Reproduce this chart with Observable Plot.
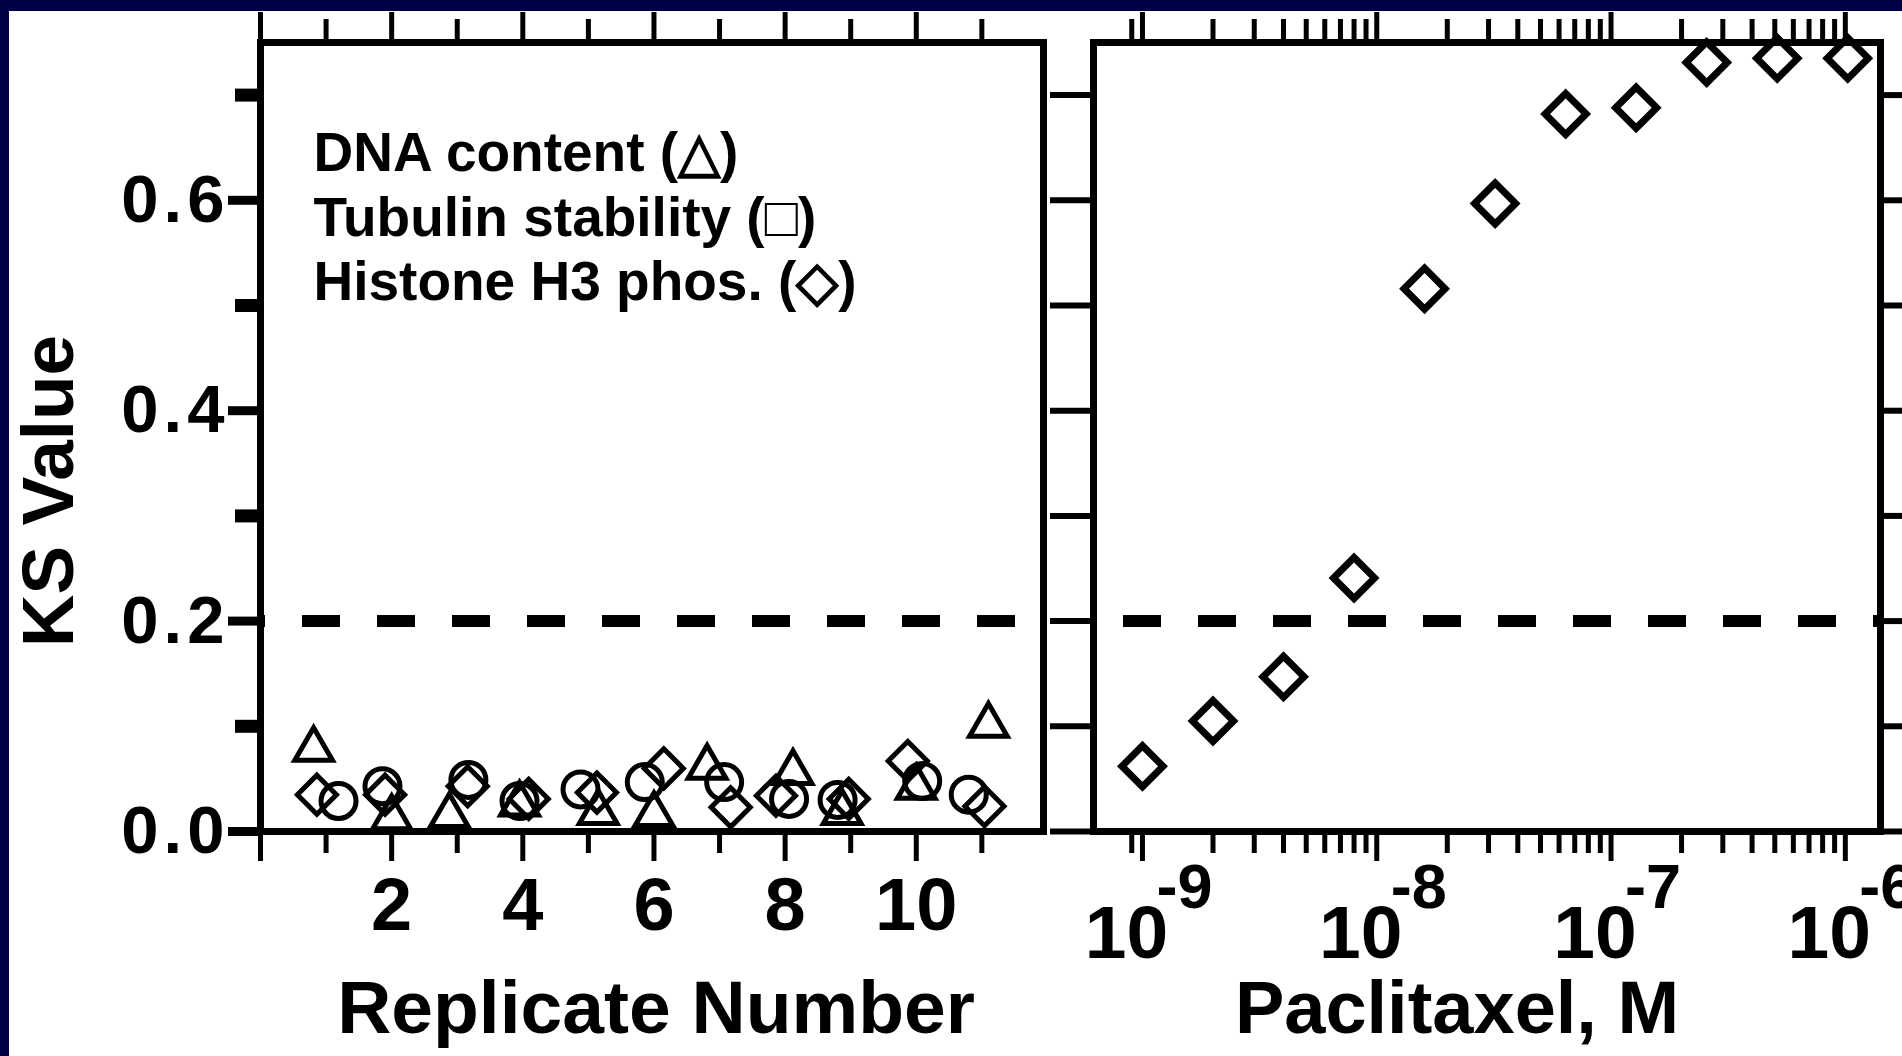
<!DOCTYPE html>
<html><head><meta charset="utf-8">
<script src="https://cdn.jsdelivr.net/npm/d3@7"></script>
<script src="https://cdn.jsdelivr.net/npm/@observablehq/plot@0.6"></script>
<style>
html,body{margin:0;padding:0;background:#fff;overflow:hidden}
#wrap{position:relative;width:1902px;height:1056px;background:#fff;color:#000}
#left{position:absolute;left:0;top:0}
#right{position:absolute;left:1045px;top:0}
.navy{position:absolute;background:#000046;z-index:5}
</style></head><body>
<div id="wrap">
 <div id="left"></div><div id="right"></div>
 <div class="navy" style="left:0;top:0;width:1902px;height:11px"></div>
 <div class="navy" style="left:0;top:0;width:9px;height:1056px"></div>
</div>
<script>
// ---- Left panel: replicate controls (x = replicate position incl. plotted offset) ----
const dnaX  = [0.81, 2.00, 2.88, 3.95, 5.15, 6.00, 6.81, 8.12, 8.87, 10.00, 11.10];
const dnaKS = [0.078, 0.013, 0.015, 0.026, 0.018, 0.016, 0.061, 0.056, 0.018, 0.042, 0.101];
const tubX  = [1.19, 1.86, 3.17, 3.95, 4.88, 5.86, 7.07, 8.06, 8.80, 10.09, 10.80];
const tubKS = [0.029, 0.043, 0.049, 0.029, 0.040, 0.047, 0.047, 0.031, 0.030, 0.048, 0.035];
const h3X   = [0.86, 1.90, 3.16, 4.09, 5.13, 6.15, 7.17, 7.86, 8.97, 9.87, 11.04];
const h3KS  = [0.035, 0.035, 0.043, 0.031, 0.037, 0.060, 0.023, 0.034, 0.031, 0.067, 0.024];

// ---- Right panel: paclitaxel dose response (Histone H3 phos.) ----
const doseM  = [1e-9, 2e-9, 4e-9, 8e-9, 1.6e-8, 3.2e-8, 6.4e-8, 1.28e-7, 2.56e-7, 5.12e-7, 1.024e-6];
const doseKS = [0.062, 0.105, 0.147, 0.241, 0.516, 0.597, 0.682, 0.688, 0.731, 0.735, 0.735];

// ---- Ticks / labels ----
const yMajor = [0, 0.2, 0.4, 0.6];
const yMinor = [0.1, 0.3, 0.5, 0.7];
const yAll = [0, 0.1, 0.2, 0.3, 0.4, 0.5, 0.6, 0.7];
const xMajor = [0, 2, 4, 6, 8, 10];
const xMinor = [1, 3, 5, 7, 9, 11];
const xLabels = [2, 4, 6, 8, 10];
const decades = [1e-9, 1e-8, 1e-7, 1e-6];
const expLabels = ["-9", "-8", "-7", "-6"];
const logMinor = [9e-10,
  2e-9, 3e-9, 4e-9, 5e-9, 6e-9, 7e-9, 8e-9, 9e-9,
  2e-8, 3e-8, 4e-8, 5e-8, 6e-8, 7e-8, 8e-8, 9e-8,
  2e-7, 3e-7, 4e-7, 5e-7, 6e-7, 7e-7, 8e-7, 9e-7];
const legendLines = ["DNA content (\u25B3)", "Tubulin stability (\u25A1)", "Histone H3 phos. (\u25C7)"];
const yTitle = "KS Value";
const xTitleL = "Replicate Number";
const xTitleR = "Paclitaxel, M";
const threshold = 0.2;

const FONT = "'Liberation Sans', Arial, Helvetica, sans-serif";
const blank = () => "";

const left = Plot.plot({
  width: 1050, height: 1056,
  marginLeft: 260, marginRight: 7, marginTop: 42, marginBottom: 225,
  style: {background: "transparent", fontFamily: FONT, fontWeight: "bold", color: "black"},
  x: {domain: [0, 11.94]},
  y: {domain: [0, 0.75]},
  marks: [
    Plot.ruleY([threshold], {strokeWidth: 12, strokeDasharray: "38,37", strokeDashoffset: 33}),
    Plot.frame({strokeWidth: 7}),
    Plot.axisY({ticks: yMajor, tickSize: 32, strokeWidth: 9, tickFormat: blank, label: null}),
    Plot.axisY({ticks: yMinor, tickSize: 25, strokeWidth: 13, tickFormat: blank, label: null}),
    Plot.axisY({ticks: yMajor, tickSize: 0, tickPadding: 31, tickFormat: d3.format(".1f"), fontSize: 67, label: null}),
    Plot.axisX({ticks: xMajor, tickSize: 30, strokeWidth: 5, tickFormat: blank, label: null}),
    Plot.axisX({ticks: xMinor, tickSize: 22, strokeWidth: 5, tickFormat: blank, label: null}),
    Plot.axisX({ticks: xMajor, anchor: "top", tickSize: 31, strokeWidth: 5, tickFormat: blank, label: null}),
    Plot.axisX({ticks: xMinor, anchor: "top", tickSize: 24, strokeWidth: 5, tickFormat: blank, label: null}),
    Plot.axisX({ticks: xLabels, tickSize: 0, tickPadding: 46, fontSize: 74, label: null}),
    Plot.dot(dnaKS, {x: dnaX, y: d => d, symbol: "triangle", r: 14, fill: "none", stroke: "black", strokeWidth: 5}),
    Plot.dot(tubKS, {x: tubX, y: d => d, symbol: "circle", r: 17.5, fill: "none", stroke: "black", strokeWidth: 5}),
    Plot.dot(h3KS, {x: h3X, y: d => d, symbol: "diamond2", r: 17.6, fill: "none", stroke: "black", strokeWidth: 5}),
    Plot.text([legendLines.join("\n")], {text: d => d, frameAnchor: "top-left", dx: 53, dy: 83, textAnchor: "start", lineAnchor: "top", lineHeight: 1.17, fontSize: 55}),
    Plot.text([yTitle], {text: d => d, frameAnchor: "left", rotate: -90, dx: -211, dy: 54, fontSize: 73, textAnchor: "middle", lineAnchor: "middle"}),
    Plot.text([xTitleL], {text: d => d, frameAnchor: "bottom", dx: 4, dy: 201, fontSize: 75, lineAnchor: "bottom"})
  ]
});
// wider spacing of the y tick numerals, as in the reference
left.querySelectorAll('g[aria-label="y-axis tick label"] text').forEach(t => t.style.letterSpacing = "5px");
document.getElementById("left").append(left);

const right = Plot.plot({
  width: 857, height: 1056,
  marginLeft: 48, marginRight: 22, marginTop: 42, marginBottom: 225,
  style: {background: "transparent", fontFamily: FONT, fontWeight: "bold", color: "black", overflow: "hidden"},
  x: {type: "log", domain: [6.18e-10, 1.413e-6]},
  y: {domain: [0, 0.75]},
  marks: [
    Plot.ruleY([threshold], {strokeWidth: 12, strokeDasharray: "38,37", strokeDashoffset: 45}),
    Plot.frame({strokeWidth: 7}),
    Plot.axisY({ticks: yAll, anchor: "left", tickSize: 43, strokeWidth: 6, tickFormat: blank, label: null}),
    Plot.axisY({ticks: yAll, anchor: "right", tickSize: 30, strokeWidth: 6, tickFormat: blank, label: null}),
    Plot.axisX({ticks: decades, tickSize: 30, strokeWidth: 5, tickFormat: blank, label: null}),
    Plot.axisX({ticks: logMinor, tickSize: 22, strokeWidth: 5, tickFormat: blank, label: null}),
    Plot.axisX({ticks: decades, anchor: "top", tickSize: 31, strokeWidth: 5, tickFormat: blank, label: null}),
    Plot.axisX({ticks: logMinor, anchor: "top", tickSize: 24, strokeWidth: 5, tickFormat: blank, label: null}),
    Plot.text(decades, {x: d => d, text: () => "10", frameAnchor: "bottom", dx: -16, dy: 126, fontSize: 75, lineAnchor: "bottom"}),
    Plot.text(decades, {x: d => d, text: (d, i) => expLabels[i], frameAnchor: "bottom", textAnchor: "start", dx: 14, dy: 76, fontSize: 63, lineAnchor: "bottom"}),
    Plot.dot(doseKS, {x: doseM, y: d => d, symbol: "diamond2", r: 18.5, fill: "none", stroke: "black", strokeWidth: 7}),
    Plot.text([xTitleR], {text: d => d, frameAnchor: "bottom", dx: -30, dy: 201, fontSize: 74, lineAnchor: "bottom"})
  ]
});
document.getElementById("right").append(right);
</script>
</body></html>
